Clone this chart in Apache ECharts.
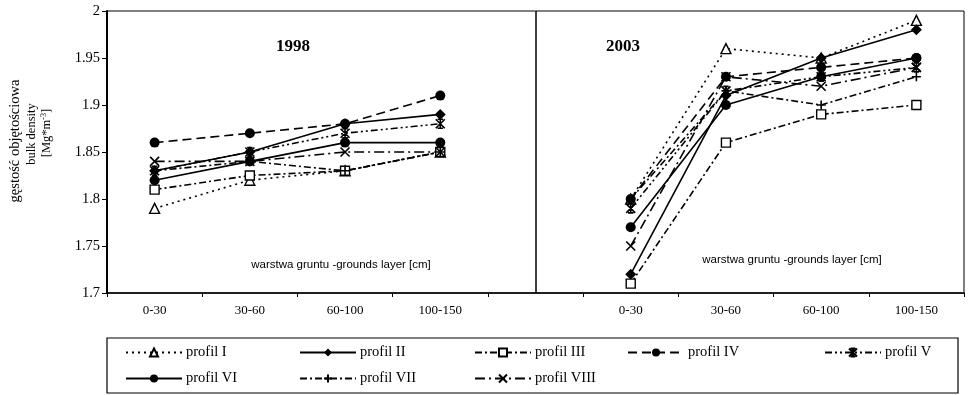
<!DOCTYPE html>
<html><head><meta charset="utf-8">
<script src="https://cdn.jsdelivr.net/npm/echarts@6/dist/echarts.min.js"></script>
<style>html,body{margin:0;padding:0;background:#fff}#c{width:968px;height:395px}</style>
</head><body><div id="c"></div>
<script>
// ---- data ----
const layers = ['0-30', '30-60', '60-100', '100-150'];
const profileNames = ['profil I', 'profil II', 'profil III', 'profil IV', 'profil V', 'profil VI', 'profil VII', 'profil VIII'];
const yTicks = [1.7, 1.75, 1.8, 1.85, 1.9, 1.95, 2];
const panelTitles = ['1998', '2003'];
const xTitle = 'warstwa gruntu -grounds layer [cm]';
const yTitleLines = ['gęstość objętościowa', 'bulk density', '[Mg*m', '-3', ']'];

const p1_1998 = [1.79, 1.82, 1.83, 1.85];
const p2_1998 = [1.83, 1.85, 1.88, 1.89];
const p3_1998 = [1.81, 1.825, 1.83, 1.85];
const p4_1998 = [1.86, 1.87, 1.88, 1.91];
const p5_1998 = [1.83, 1.85, 1.87, 1.88];
const p6_1998 = [1.82, 1.84, 1.86, 1.86];
const p7_1998 = [1.83, 1.84, 1.83, 1.85];
const p8_1998 = [1.84, 1.84, 1.85, 1.85];

const p1_2003 = [1.80, 1.96, 1.95, 1.99];
const p2_2003 = [1.72, 1.91, 1.95, 1.98];
const p3_2003 = [1.71, 1.86, 1.89, 1.90];
const p4_2003 = [1.80, 1.93, 1.94, 1.95];
const p5_2003 = [1.79, 1.915, 1.93, 1.94];
const p6_2003 = [1.77, 1.90, 1.93, 1.95];
const p7_2003 = [1.80, 1.915, 1.90, 1.93];
const p8_2003 = [1.75, 1.93, 1.92, 1.94];

const d1998 = [p1_1998, p2_1998, p3_1998, p4_1998, p5_1998, p6_1998, p7_1998, p8_1998];
const d2003 = [p1_2003, p2_2003, p3_2003, p4_2003, p5_2003, p6_2003, p7_2003, p8_2003];

// ---- styles ----
const SERIF = 'Liberation Serif';
const X_PATH = 'path://M0,0L10,10M10,0L0,10';
const STAR_PATH = 'path://M0,0L10,10M10,0L0,10M5,0L5,10M2,0L8,0M2,10L8,10';
const PLUS_PATH = 'path://M5,0L5,10M0,5L10,5';
const styles = [
  {sym: 'triangle', open: true, dash: [2, 4], size: 10},
  {sym: 'diamond', open: false, dash: 'solid', size: 11},
  {sym: 'rect', open: true, dash: [7, 3, 2, 3], size: 9},
  {sym: 'circle', open: false, dash: [9, 5], size: 10},
  {sym: STAR_PATH, stroke: true, dash: [7, 3, 2, 3, 2, 3], size: 9},
  {sym: 'circle', open: false, dash: 'solid', size: 10},
  {sym: PLUS_PATH, stroke: true, dash: [7, 3, 2, 3], size: 9},
  {sym: X_PATH, stroke: true, dash: [10, 4, 2, 4], size: 9}
];

const xCats = layers.concat([''], layers);

const series = profileNames.map((n, i) => {
  const s = styles[i];
  let itemStyle;
  if (s.stroke) itemStyle = {color: 'rgba(0,0,0,0)', borderColor: '#000', borderWidth: 1.6};
  else if (s.open) itemStyle = {color: '#fff', borderColor: '#000', borderWidth: 1.4};
  else itemStyle = {color: '#000', borderColor: '#000', borderWidth: 0};
  const o = {
    name: n, type: 'line',
    data: d1998[i].concat([null], d2003[i]),
    connectNulls: false,
    symbol: s.sym, symbolSize: s.size, showAllSymbol: true,
    lineStyle: {color: '#000', width: 1.6, type: s.dash},
    itemStyle: itemStyle,
    emphasis: {disabled: true},
    z: 3
  };
  if (i === 0) {
    o.markLine = {
      silent: true, symbol: 'none', label: {show: false},
      lineStyle: {color: '#000', type: 'solid', width: 1.5},
      data: [{xAxis: 4}]
    };
  }
  return o;
});

// legend placement
const legendPos = [
  [125, 345], [299, 345], [474, 345], [627, 345], [824, 345],
  [125, 371], [299, 371], [474, 371]
];
const legends = profileNames.map((n, i) => ({
  data: [n], left: legendPos[i][0], top: legendPos[i][1],
  itemWidth: 56, itemHeight: 10, itemGap: 5, padding: 0,
  selectedMode: false,
  textStyle: {fontFamily: SERIF, fontSize: 14.5, color: '#000', padding: [0, 0, 0, -1]}
}));

const chart = echarts.init(document.getElementById('c'));
chart.setOption({
  animation: false,
  backgroundColor: '#fff',
  title: [
    {text: panelTitles[0], left: 288, top: 33, textAlign: 'center',
     textStyle: {fontFamily: SERIF, fontSize: 17, fontWeight: 'bold', color: '#000'}},
    {text: panelTitles[1], left: 618, top: 33, textAlign: 'center',
     textStyle: {fontFamily: SERIF, fontSize: 17, fontWeight: 'bold', color: '#000'}}
  ],
  legend: legends,
  grid: {left: 107, right: 4, top: 11, bottom: 102, show: true, borderColor: '#000', borderWidth: 1, backgroundColor: 'transparent'},
  xAxis: {
    type: 'category', data: xCats, boundaryGap: true,
    axisLine: {lineStyle: {color: '#000', width: 1.5}},
    axisTick: {show: true, alignWithLabel: false, length: 4, lineStyle: {color: '#000'}},
    axisLabel: {fontFamily: SERIF, fontSize: 13, color: '#000', margin: 11, interval: 0}
  },
  yAxis: {
    type: 'value', min: yTicks[0], max: yTicks[yTicks.length - 1], interval: 0.05,
    axisLine: {show: true, lineStyle: {color: '#000', width: 2}},
    axisTick: {show: true, length: 5, lineStyle: {color: '#000'}},
    splitLine: {show: false},
    axisLabel: {fontFamily: SERIF, fontSize: 14.5, color: '#000', margin: 7,
      formatter: v => String(Math.round(v * 100) / 100)}
  },
  series: series,
  graphic: [
    {type: 'rect', shape: {x: 107, y: 338, width: 851, height: 55},
     style: {fill: 'none', stroke: '#000', lineWidth: 1.2}, silent: true},
    {type: 'text', x: 341, y: 265, style: {text: xTitle, fill: '#000', font: '11.5px "Liberation Sans"', align: 'center', verticalAlign: 'middle'}},
    {type: 'text', x: 792, y: 260, style: {text: xTitle, fill: '#000', font: '11.5px "Liberation Sans"', align: 'center', verticalAlign: 'middle'}},
    {type: 'text', x: 15, y: 141, rotation: Math.PI / 2,
     style: {text: yTitleLines[0], fill: '#000', font: '14.5px "Liberation Serif"', align: 'center', verticalAlign: 'middle'}},
    {type: 'text', x: 32, y: 134, rotation: Math.PI / 2,
     style: {text: yTitleLines[1], fill: '#000', font: '12.5px "Liberation Serif"', align: 'center', verticalAlign: 'middle'}},
    {type: 'text', x: 47, y: 133, rotation: Math.PI / 2,
     style: {text: '{a|' + yTitleLines[2] + '}{s|' + yTitleLines[3] + '}{a|' + yTitleLines[4] + '}',
       align: 'center', verticalAlign: 'middle',
       rich: {
         a: {fontFamily: SERIF, fontSize: 12.5, fill: '#000'},
         s: {fontFamily: SERIF, fontSize: 8, fill: '#000', verticalAlign: 'top', padding: [0, 0, 6, 0]}
       }}}
  ]
});
</script>
</body></html>
